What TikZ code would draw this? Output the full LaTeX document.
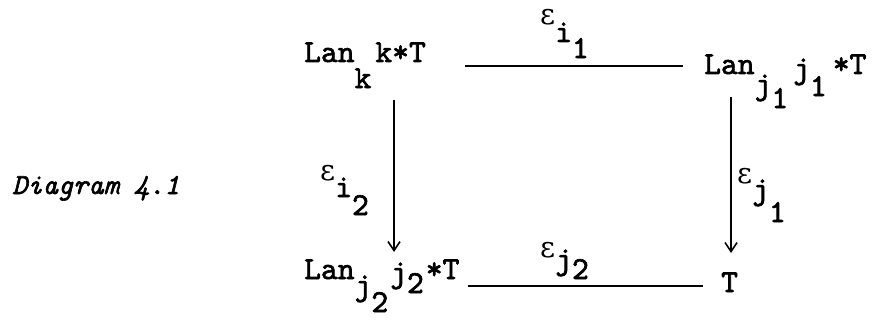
\documentclass[tikz,border=0pt]{standalone}
\usepackage{fontspec}
\usepackage{tikz}
\usetikzlibrary{arrows.meta}
\newfontfamily\tw{lmmono10-regular}[Extension=.otf, ItalicFont=lmmono10-italic, FakeBold=2]
\newfontfamily\gr{DejaVu Serif}
\newcommand{\dn}[2][0.68em]{\raisebox{-#1}{#2}}
\newcommand{\eps}{{\gr\fontsize{29}{34}\selectfont ε}}
\begin{document}
\begin{tikzpicture}[x=1pt, y=-1pt, font=\tw\fontsize{32}{38}\selectfont, >={Straight Barb[length=9pt,width=12pt]}]
\tikzset{obj/.style={inner sep=0pt, anchor=base west}, lbl/.style={obj}, map/.style={line width=1.6pt}}
\useasboundingbox (0,0) rectangle (882,321);
\node[obj] (lk) at (304,62) {Lan\dn[26pt]{k}\hspace{4pt}k*T};
\node[obj] (lj1) at (704,74) {Lan\dn[20pt]{j\dn[14pt]{1}}\hspace{5pt}\dn[4pt]{j\dn[18pt]{1}}\hspace{6pt}*T};
\node[obj] (lj2) at (304,279) {Lan\dn[16pt]{j\dn[17pt]{2}}\hspace{2pt}\dn[3pt]{j\dn[11pt]{2}}\hspace{2pt}*T};
\node[obj] (t) at (721,292) {T};
\node[lbl] (ei1) at (540,25) {\eps\dn[17pt]{i\dn[16pt]{1}}};
\node[lbl] (ei2) at (320,180) {\eps\dn[17pt]{i\dn[18pt]{2}}};
\node[lbl] (ej1) at (737,183) {\eps\dn[16pt]{j\dn[23pt]{1}}};
\node[lbl] (ej2) at (540,257) {\eps\dn[12pt]{j\dn[10pt]{2}}};
\node[obj, font=\tw\itshape\fontsize{29}{34}\selectfont] (cap) at (12,194) {Diagram 4.1};
\draw[map] ([shift={(161,4)}]lk.base west) -- ([shift={(-21,-8)}]lj1.base west);
\draw[map] ([shift={(164,7)}]lj2.base west) -- ([shift={(-18,-6)}]t.base west);
\draw[map,->] ([shift={(90,38)}]lk.base west) -- ([shift={(90,-27)}]lj2.base west);
\draw[map,->] ([shift={(27,23)}]lj1.base west) -- ([shift={(10,-39)}]t.base west);
\end{tikzpicture}
\end{document}
